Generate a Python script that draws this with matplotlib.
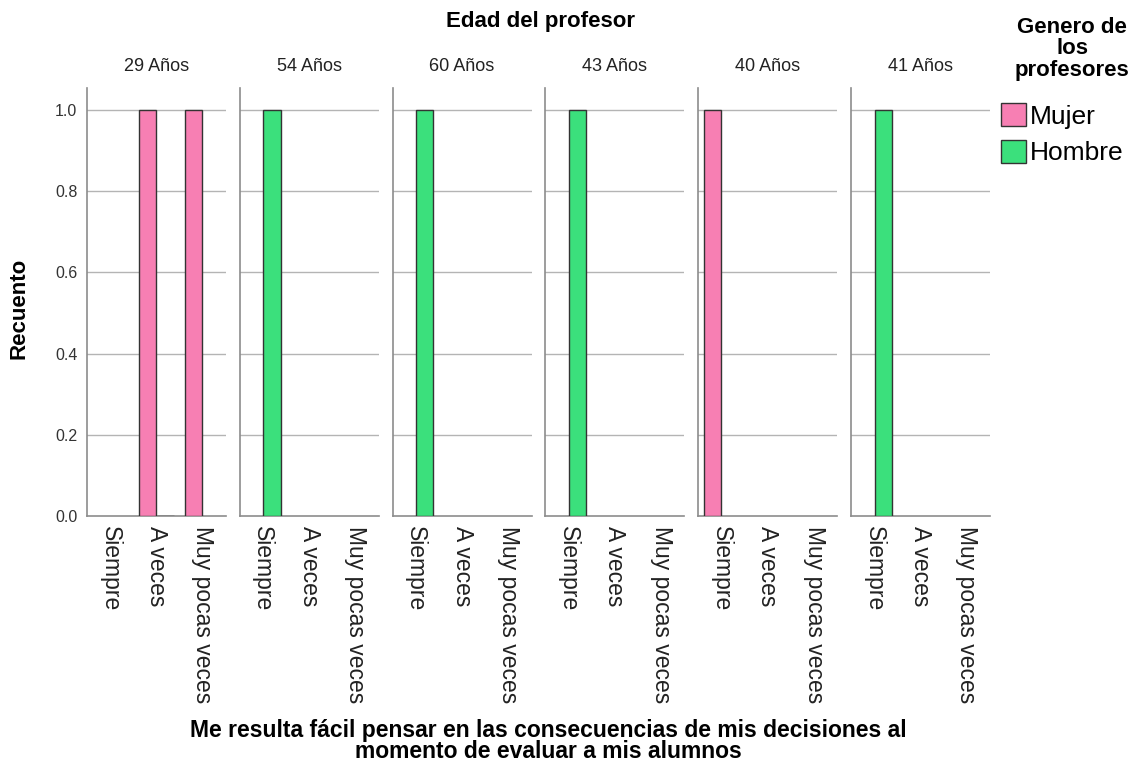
import numpy as np
import matplotlib
matplotlib.use('Agg')
import matplotlib.pyplot as plt
import matplotlib.transforms as mtransforms
from matplotlib.patches import Patch

plt.rcParams['font.family'] = ['Liberation Sans', 'DejaVu Sans']

# --- data ---
edades = ['29 Años', '54 Años', '60 Años', '43 Años', '40 Años', '41 Años']
categorias = ['Siempre', 'A veces', 'Muy pocas veces']
# None = group not present in that cell (SPSS draws nothing)
mujer = [
    [None, 1, 1],
    [None, None, None],
    [None, None, None],
    [None, None, None],
    [1, None, None],
    [None, None, None],
]
hombre = [
    [None, 0, None],
    [1, None, None],
    [1, None, None],
    [1, None, None],
    [None, None, None],
    [1, None, None],
]
y_ticks = [0.0, 0.2, 0.4, 0.6, 0.8, 1.0]

c_mujer = '#F77FB3'
c_hombre = '#3BE07C'
grid_c = '#B4B4B4'
edge_c = '#333333'

fig = plt.figure(figsize=(11.43, 7.64), dpi=100)

W = 1143.0
H = 764.0
left0 = 87
step = 152.8
pw = 139
bottom = 1 - 516 / H
height = (516 - 88) / H
bw = 0.37
off = 0.195

x = np.arange(len(categorias))
shift = mtransforms.ScaledTranslation(-5 / 100, 0, fig.dpi_scale_trans)
for i, edad in enumerate(edades):
    ax = fig.add_axes([(left0 + i * step) / W, bottom, pw / W, height])
    for j in x:
        if mujer[i][j] is not None:
            ax.bar(j - off, mujer[i][j], width=bw, color=c_mujer, edgecolor=edge_c, linewidth=1, zorder=3)
        if hombre[i][j] is not None:
            ax.bar(j + off, hombre[i][j], width=bw, color=c_hombre, edgecolor=edge_c, linewidth=1, zorder=3)
    ax.set_xlim(-0.5, 2.5)
    ax.set_ylim(0, 1.054)
    ax.set_yticks(y_ticks)
    for yv in y_ticks[1:]:
        ax.axhline(yv, color=grid_c, linewidth=1, zorder=1)
    ax.set_xticks(x)
    ax.set_xticklabels(categorias, rotation=270, fontsize=16.5, color='#222222')
    for lab in ax.get_xticklabels():
        lab.set_transform(lab.get_transform() + shift)
    ax.tick_params(axis='both', length=0)
    ax.tick_params(axis='x', pad=7)
    if i == 0:
        ax.set_yticklabels(['%.1f' % v for v in y_ticks], fontsize=11.5, color='#333333')
        ax.tick_params(axis='y', pad=7)
    else:
        ax.set_yticklabels([])
    for s in ['top', 'right']:
        ax.spines[s].set_visible(False)
    for s in ['left', 'bottom']:
        ax.spines[s].set_color('#8c8c8c')
        ax.spines[s].set_linewidth(1.2)
    ax.set_title(edad, fontsize=13, color='#222222', pad=12)

fig.text(540 / W, 1 - 21 / H, 'Edad del profesor', ha='center', va='center',
         fontsize=16, fontweight='bold')
fig.text(19 / W, 1 - 308 / H, 'Recuento', ha='center', va='center',
         rotation=90, fontsize=16, fontweight='bold')
fig.text(548 / W, 1 - 741 / H,
         'Me resulta fácil pensar en las consecuencias de mis decisiones al\nmomento de evaluar a mis alumnos',
         ha='center', va='center', fontsize=16.5, fontweight='bold', linespacing=0.88)

fig.text(1072 / W, 1 - 49 / H, 'Genero de\nlos\nprofesores', ha='center', va='center',
         fontsize=16, fontweight='bold', linespacing=1.05)
handles = [Patch(facecolor=c_mujer, edgecolor=edge_c, label='Mujer'),
           Patch(facecolor=c_hombre, edgecolor=edge_c, label='Hombre')]
fig.legend(handles=handles, loc='upper left', bbox_to_anchor=(996 / W, 1 - 98 / H),
           frameon=False, fontsize=19, handlelength=0.95, handleheight=0.95,
           handletextpad=0.15, labelspacing=0.42, borderaxespad=0, borderpad=0.2)

fig.savefig('out.png', dpi=100)
